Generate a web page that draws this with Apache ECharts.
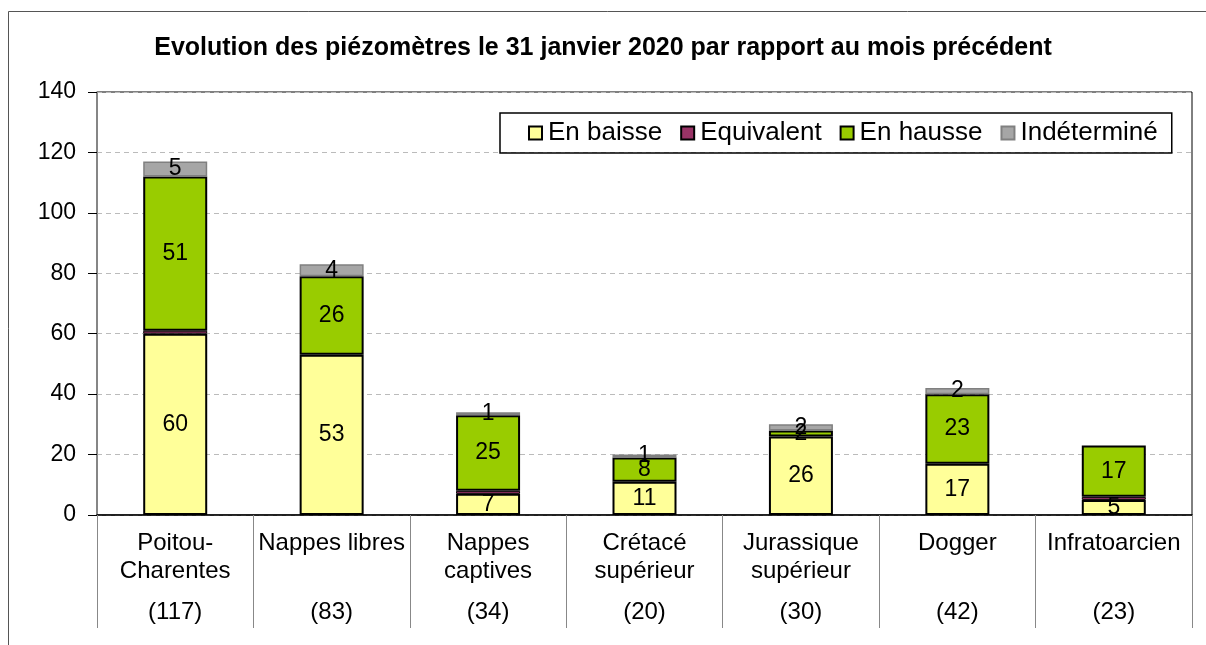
<!DOCTYPE html>
<html><head><meta charset="utf-8">
<script src="https://cdn.jsdelivr.net/npm/echarts@6/dist/echarts.min.js"></script>
<style>html,body{margin:0;padding:0;background:#fff}#c{width:1206px;height:645px}</style>
</head><body><div id="c"></div>
<script>
const categories = ['Poitou-\nCharentes', 'Nappes libres', 'Nappes\ncaptives', 'Crétacé\nsupérieur', 'Jurassique\nsupérieur', 'Dogger', 'Infratoarcien'];
const counts = ['(117)', '(83)', '(34)', '(20)', '(30)', '(42)', '(23)'];
const enBaisse = [60, 53, 7, 11, 26, 17, 5];
const equivalent = [1, 0, 1, 0, 0, 0, 1];
const enHausse = [51, 26, 25, 8, 2, 23, 17];
const indetermine = [5, 4, 1, 1, 2, 2, 0];
const yTicks = [0, 20, 40, 60, 80, 100, 120, 140];

const FONT = 'Liberation Sans, Arial, sans-serif';
const FS = 23;
const chart = echarts.init(document.getElementById('c'));

function mk(name, data, color, border, bw, showLabel) {
  return {
    name: name, type: 'bar', stack: 'a', barWidth: 64,
    data: data.map(v => v === 0 ? '-' : v),
    itemStyle: { color: color, borderColor: border, borderWidth: bw },
    label: {
      show: showLabel, position: 'inside', color: '#000', fontSize: FS, fontFamily: FONT,
      formatter: p => String(p.value)
    }
  };
}

chart.setOption({
  animation: false,
  textStyle: { fontFamily: FONT },
  title: {
    text: 'Evolution des piézomètres le 31 janvier 2020 par rapport au mois précédent',
    left: 598, top: 31, textAlign: 'center',
    textStyle: { fontSize: 25, fontWeight: 'bold', color: '#000', fontFamily: FONT }
  },
  graphic: [{
    type: 'rect', shape: { x: 8.5, y: 11.5, width: 1210, height: 650 },
    style: { fill: 'none', stroke: '#555', lineWidth: 1 }, silent: true, z: -1
  }],
  legend: {
    left: 500, top: 113, padding: [7, 14, 7, 28], itemGap: 18,
    itemWidth: 13, itemHeight: 13, icon: 'rect',
    borderColor: '#000', borderWidth: 1.5,
    textStyle: { fontSize: 26, color: '#000', fontFamily: FONT, padding: [0, 0, 0, 1] },
    data: ['En baisse', 'Equivalent', 'En hausse', 'Indéterminé']
  },
  grid: { left: 97, right: 14, top: 92, bottom: 130, show: true, borderColor: '#000', borderWidth: 1 },
  xAxis: {
    type: 'category', data: categories,
    axisLine: { show: true, lineStyle: { color: '#000', width: 1.5 } },
    axisTick: { show: true, length: 113, alignWithLabel: false, lineStyle: { color: '#888', width: 1 } },
    axisLabel: {
      margin: 14, verticalAlign: 'top', interval: 0,
      formatter: (v, i) => {
        const parts = v.split('\n');
        const l1 = parts[0], l2 = parts[1] || ' ';
        return '{n|' + l1 + '}\n{n|' + l2 + '}\n{c|' + counts[i] + '}';
      },
      rich: {
        n: { fontSize: 24, lineHeight: 28, color: '#000', fontFamily: FONT },
        c: { fontSize: 24, lineHeight: 54, color: '#000', fontFamily: FONT }
      }
    }
  },
  yAxis: {
    type: 'value', min: yTicks[0], max: yTicks[yTicks.length - 1], interval: 20,
    axisLine: { show: true, lineStyle: { color: '#888', width: 1.5 } },
    axisTick: { show: true, inside: false, length: 9, lineStyle: { color: '#000' } },
    axisLabel: { fontSize: FS, color: '#000', margin: 21, fontFamily: FONT },
    splitLine: { show: true, lineStyle: { color: '#bbb', type: [5, 4], width: 1 } }
  },
  series: [
    mk('En baisse', enBaisse, '#FFFF99', '#000', 2, true),
    mk('Equivalent', equivalent, '#993366', '#000', 1, false),
    mk('En hausse', enHausse, '#99CC00', '#000', 2, true),
    mk('Indéterminé', indetermine, '#A6A6A6', '#808080', 1.5, true)
  ]
});
</script></body></html>
